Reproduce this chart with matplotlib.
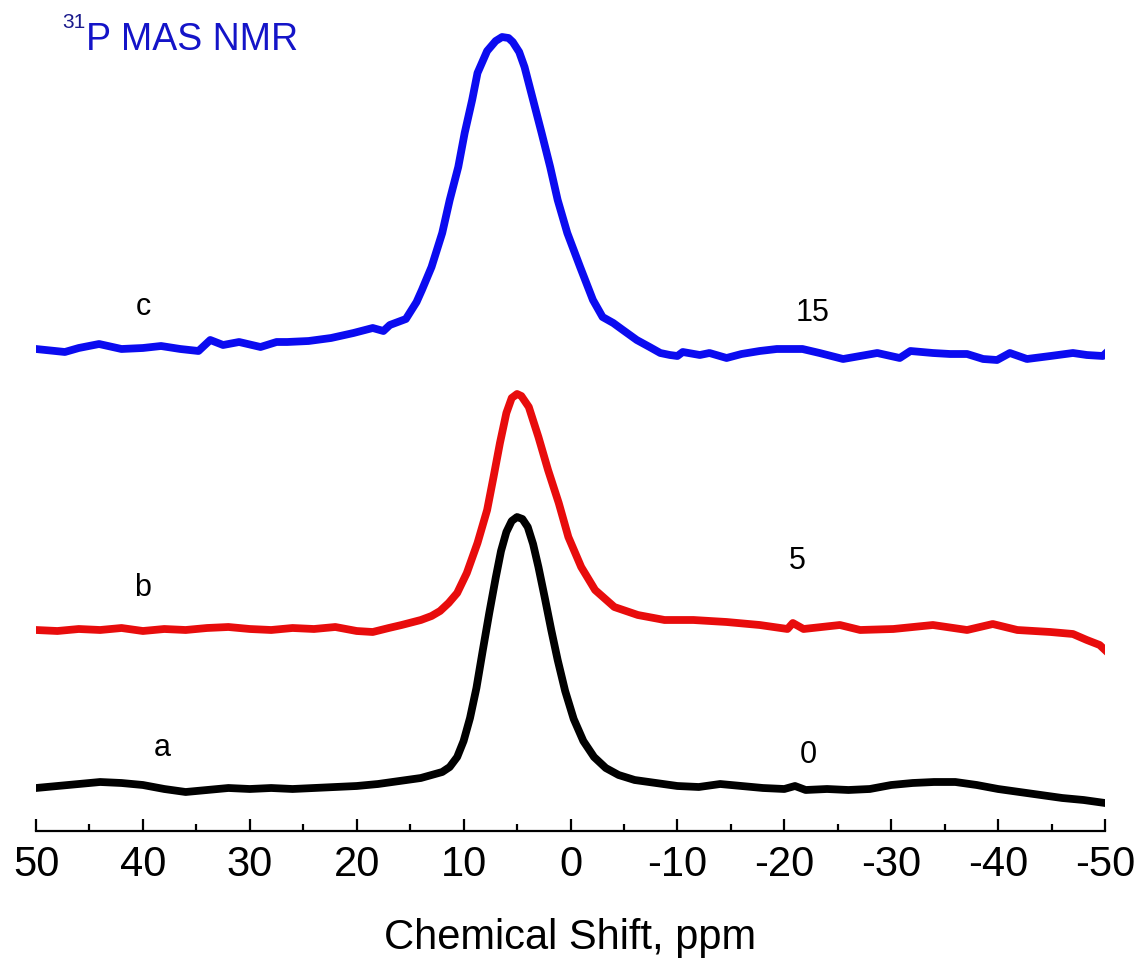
import matplotlib
matplotlib.use("Agg")
import matplotlib.pyplot as plt

plt.rcParams['font.family'] = ['Liberation Sans', 'DejaVu Sans']
plt.rcParams['axes.unicode_minus'] = False

# 31P MAS NMR spectra, stacked (intensity in arbitrary units, offsets included)
ppm_a = [50, 48, 46, 44, 42, 40, 38, 36, 34, 32, 30, 28, 26, 24, 22, 20, 18, 16, 14, 13, 12, 11.3, 10.6,
         10, 9.4, 8.8, 8.2, 7.6, 7.0, 6.5, 6.0, 5.5, 5.0, 4.5, 4.0, 3.5, 3.0, 2.4, 1.8, 1.2, 0.5, -0.3,
         -1.2, -2.2, -3.3, -4.5, -6, -8, -10, -12, -14, -16, -18, -20, -21, -22, -24, -26, -28, -30,
         -32, -34, -36, -38, -40, -42, -44, -46, -48, -50]
int_a = [43, 45, 47, 49, 48, 46, 42, 39, 41, 43, 42, 43, 42, 43, 44, 45, 47, 50, 53, 56, 59, 64, 74,
         90, 113, 143, 181, 218, 253, 280, 299, 310, 314, 312, 304, 287, 264, 233, 201, 171, 140, 112,
         90, 74, 63, 56, 51, 48, 45, 44, 47, 45, 43, 42, 45, 41, 42, 41, 42, 46,
         48, 49, 49, 46, 42, 39, 36, 33, 31, 28]

ppm_b = [50, 48, 46, 44, 42, 40, 38, 36, 34, 32, 30, 28, 26, 24, 22, 20, 18.5, 17, 15.8, 14, 13, 12.2,
         11.4, 10.6, 9.7, 8.7, 7.8, 7.2, 6.6, 6.0, 5.5, 5.0, 4.6, 3.9, 3.0, 2.1, 1.1, 0.2, -1.0, -2.3,
         -4.1, -6.3, -8.8, -11.5, -14.6, -17.7, -20.3, -20.8, -21.8, -25.2, -27.1, -30.2, -33.9,
         -37.1, -39.5, -41.8, -44.9, -47, -48.3, -49.5, -50]
int_b = [201, 200, 202, 201, 203, 200, 202, 201, 203, 204, 202, 201, 203, 202, 204, 200, 199, 203, 206, 211, 215, 220,
         228, 238, 258, 288, 321, 354, 388, 418, 433, 437, 435, 424, 394, 361, 328, 294, 264, 241,
         224, 216, 211, 211, 209, 206, 202, 208, 202, 206, 201, 202, 206,
         201, 207, 201, 199, 197, 191, 186, 181]

ppm_c = [50, 47.3, 46, 44.1, 42, 40, 38.3, 36.5, 34.8, 33.7, 32.5, 31, 29, 27.5, 26.5, 24.5, 22.4, 20.3,
         18.5, 17.5, 16.9, 15.4, 14.4, 13.9, 13.0, 12.0, 11.3, 10.5, 9.9, 9.2, 8.7, 7.8, 7.0, 6.4, 5.8,
         5.4, 4.8, 4.3, 3.5, 2.7, 1.9, 1.2, 0.3, -0.9, -2.1, -3.0, -4.0, -4.9, -6.2, -7.4, -8.4, -9.3,
         -10.0, -10.5, -12.1, -13.0, -14.6, -16, -17.7, -19.3, -21.7, -23.3, -25.5, -27.1, -28.7,
         -30.8, -31.8, -33.9, -35.5, -37.1, -38.6, -39.9, -41.1, -42.7, -44.9, -47.0, -48.3, -49.8, -50]
int_c = [482, 479, 483, 487, 482, 483, 485, 482, 480, 491, 486, 489, 484, 489, 489, 490, 493, 498,
         503, 500, 506, 512, 529, 541, 564, 598, 631, 664, 698, 731, 758, 780, 790, 794, 793,
         789, 779, 764, 731, 698, 664, 631, 598, 564, 531, 514, 508, 501, 491, 484, 478, 476,
         475, 479, 476, 478, 473, 477, 480, 482, 482, 478, 472, 475, 478,
         473, 480, 478, 477, 477, 472, 471, 478, 472, 475, 478, 476, 475, 477]

series_names = ['a', 'b', 'c']
series_amounts = ['0', '5', '15']
colors = ['black', '#e80c0c', '#0b0bf0']

fig = plt.figure(figsize=(11.43, 9.59), dpi=100)
ax = fig.add_axes([36 / 1143, 128 / 959, 1069 / 1143, 831 / 959])

lw = 5.6
ax.plot(ppm_a, int_a, color=colors[0], lw=lw, solid_joinstyle='round')
ax.plot(ppm_b, int_b, color=colors[1], lw=lw, solid_joinstyle='round')
ax.plot(ppm_c, int_c, color=colors[2], lw=lw, solid_joinstyle='round')

# trace labels
lab_y = [83, 243, 524]
amt_y = [76, 270, 518]
lab_x = [38.2, 40, 40]
amt_x = [-22.2, -21.2, -22.6]
for i in range(3):
    ax.text(lab_x[i], lab_y[i], series_names[i], fontsize=22, ha='center', va='center')
    ax.text(amt_x[i], amt_y[i], series_amounts[i], fontsize=22, ha='center', va='center')

ax.set_xlim(50, -50)
ax.set_ylim(0, 831)
for s in ['left', 'right', 'top']:
    ax.spines[s].set_visible(False)
ax.spines['bottom'].set_linewidth(1.6)
ax.set_yticks([])
ax.set_xticks(range(50, -51, -10))
ax.set_xticks(range(45, -50, -10), minor=True)
ax.tick_params(axis='x', which='major', direction='in', length=9, width=1.6, labelsize=30, pad=10)
ax.tick_params(axis='x', which='minor', direction='in', length=5, width=1.6)
ax.set_xlabel('Chemical Shift, ppm', fontsize=30, labelpad=24)

fig.text(62 / 1143, 1 - 28 / 959, '31', fontsize=15, color='#1a1a8c', ha='left', va='baseline')
fig.text(86 / 1143, 1 - 50 / 959, 'P MAS NMR', fontsize=27, color='#1414c8', ha='left', va='baseline')

fig.savefig('out.png', dpi=100)
